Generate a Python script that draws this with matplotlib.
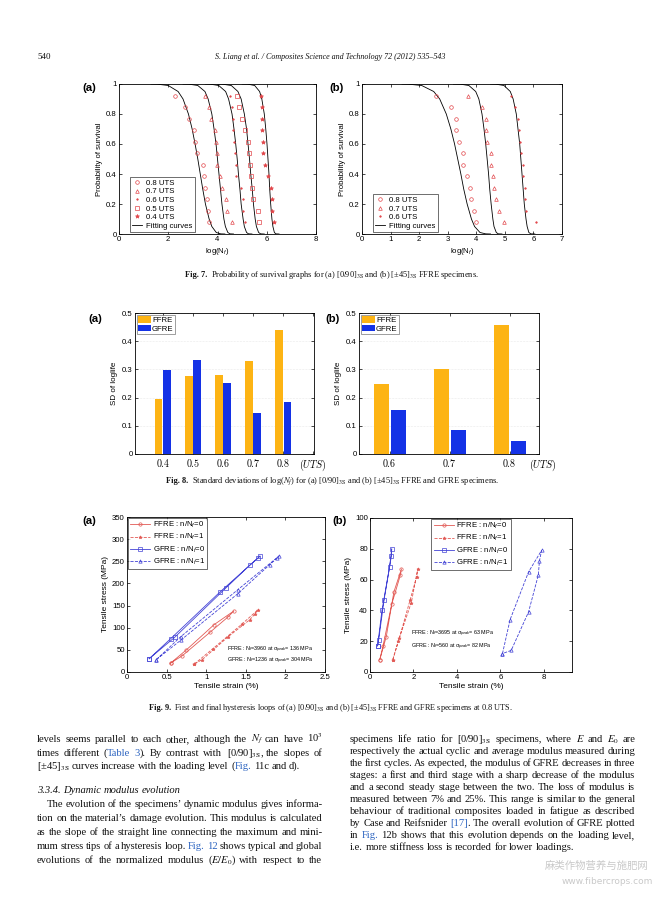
import re
import numpy as np
import matplotlib
matplotlib.use('Agg')
import matplotlib.pyplot as plt
from matplotlib.lines import Line2D
from matplotlib.textpath import text_to_path
from matplotlib.font_manager import FontProperties

# ---------------- data ----------------
# Fig 7: probability of survival
surv_p = [0.923, 0.846, 0.769, 0.692, 0.615, 0.538, 0.462, 0.385, 0.308, 0.231, 0.154, 0.077]
a_uts08 = [2.29, 2.67, 2.83, 3.04, 3.10, 3.17, 3.42, 3.44, 3.49, 3.59, 3.62, 3.66]
a_uts07 = [3.48, 3.66, 3.72, 3.89, 3.93, 3.96, 3.99, 4.09, 4.19, 4.33, 4.37, 4.57]
a_uts06 = [4.50, 4.57, 4.64, 4.64, 4.66, 4.71, 4.75, 4.77, 4.95, 5.02, 5.04, 5.11]
a_uts05 = [4.80, 4.88, 5.00, 5.13, 5.22, 5.27, 5.32, 5.36, 5.41, 5.45, 5.63, 5.68]
a_uts04 = [5.76, 5.79, 5.80, 5.82, 5.84, 5.86, 5.94, 6.06, 6.16, 6.20, 6.22, 6.31]
fit_p = [1.0, 0.999, 0.99, 0.95, 0.9, 0.8, 0.7, 0.6, 0.5, 0.4, 0.3, 0.2, 0.1, 0.05, 0.01, 0.001, 0.0]
a_fit1 = [1.30, 1.55, 2.00, 2.40, 2.60, 2.82, 2.97, 3.09, 3.20, 3.30, 3.40, 3.51, 3.66, 3.77, 3.95, 4.13, 4.30]
a_fit2 = [2.60, 2.84, 3.20, 3.49, 3.62, 3.77, 3.86, 3.94, 4.00, 4.06, 4.12, 4.18, 4.26, 4.32, 4.42, 4.51, 4.65]
a_fit3 = [3.50, 3.70, 4.05, 4.33, 4.45, 4.59, 4.67, 4.74, 4.80, 4.85, 4.91, 4.96, 5.04, 5.09, 5.18, 5.26, 5.40]
a_fit4 = [4.00, 4.20, 4.56, 4.83, 4.96, 5.09, 5.18, 5.24, 5.30, 5.35, 5.41, 5.46, 5.53, 5.58, 5.67, 5.75, 5.90]
a_fit5 = [5.00, 5.23, 5.51, 5.71, 5.80, 5.90, 5.96, 6.01, 6.05, 6.09, 6.12, 6.16, 6.21, 6.25, 6.31, 6.37, 6.50]
b_uts08 = [2.58, 3.10, 3.28, 3.28, 3.40, 3.55, 3.55, 3.67, 3.77, 3.81, 3.92, 3.98]
b_uts07 = [3.72, 4.21, 4.33, 4.33, 4.39, 4.53, 4.51, 4.57, 4.63, 4.68, 4.80, 4.98]
b_uts06 = [5.20, 5.35, 5.45, 5.50, 5.52, 5.58, 5.62, 5.65, 5.70, 5.72, 5.75, 6.10]
b_fit1 = [1.40, 1.62, 2.09, 2.51, 2.72, 2.95, 3.11, 3.24, 3.35, 3.46, 3.56, 3.68, 3.83, 3.94, 4.13, 4.33, 4.50]
b_fit2 = [3.20, 3.44, 3.74, 3.98, 4.09, 4.20, 4.27, 4.33, 4.38, 4.43, 4.47, 4.52, 4.58, 4.62, 4.70, 4.77, 4.90]
b_fit3 = [4.50, 4.68, 4.97, 5.19, 5.29, 5.40, 5.46, 5.52, 5.56, 5.60, 5.64, 5.68, 5.74, 5.78, 5.84, 5.91, 6.05]

# Fig 8: SD of loglife
uts_a = ['0.4', '0.5', '0.6', '0.7', '0.8']
sd_ffre_a = [0.195, 0.275, 0.280, 0.330, 0.438]
sd_gfre_a = [0.299, 0.334, 0.251, 0.145, 0.186]
uts_b = ['0.6', '0.7', '0.8']
sd_ffre_b = [0.248, 0.300, 0.457]
sd_gfre_b = [0.157, 0.085, 0.045]

# Fig 9: hysteresis loops (strain %, stress MPa)
a_ff0_e = [0.55, 0.75, 1.10, 1.35, 1.28, 1.05, 0.70, 0.55]
a_ff0_s = [20, 50, 107, 138, 125, 90, 37, 20]
a_ff1_e = [0.85, 1.08, 1.45, 1.65, 1.62, 1.55, 1.28, 0.95, 0.85]
a_ff1_s = [18, 52, 108, 140, 132, 118, 80, 28, 18]
a_gf0_e = [0.28, 0.55, 1.17, 1.68, 1.66, 1.55, 1.25, 0.60, 0.28]
a_gf0_s = [30, 75, 180, 262, 258, 241, 190, 78, 30]
a_gf1_e = [0.37, 0.68, 1.40, 1.92, 1.90, 1.80, 1.40, 0.68, 0.37]
a_gf1_s = [28, 80, 186, 262, 258, 242, 177, 72, 28]
b_ff0_e = [0.45, 0.75, 1.10, 1.45, 1.40, 1.00, 0.60, 0.45]
b_ff0_s = [8, 23, 52, 67, 63, 44, 17, 8]
b_ff1_e = [1.05, 1.30, 1.90, 2.20, 2.15, 1.85, 1.35, 1.05]
b_ff1_s = [8, 20, 45, 67, 62, 47, 22, 8]
b_gf0_e = [0.35, 0.55, 0.90, 1.00, 0.98, 0.65, 0.40, 0.35]
b_gf0_s = [17, 40, 68, 80, 75, 47, 21, 17]
b_gf1_e = [6.10, 6.45, 7.30, 7.90, 7.80, 7.75, 7.30, 6.50, 6.10]
b_gf1_s = [12, 34, 65, 79, 72, 63, 39, 14, 12]

# ---------------- style ----------------
plt.rcParams['font.family'] = ['Liberation Sans', 'DejaVu Sans']
plt.rcParams['mathtext.fontset'] = 'custom'
plt.rcParams['mathtext.rm'] = 'Liberation Sans'
plt.rcParams['mathtext.it'] = 'Liberation Sans:italic'
plt.rcParams['mathtext.bf'] = 'Liberation Sans:bold'

W, H = 672, 897
fig = plt.figure(figsize=(W / 100, H / 100), dpi=100)
fig.patch.set_facecolor('white')

RED = '#e2474b'
RED9 = '#e25a55'
BLUE9 = '#4343d6'
ORANGE = '#fdb414'
BLUE8 = '#1432e6'
TXT = '#111111'
LINK = '#2b63c0'
SERIF = ['Liberation Serif', 'DejaVu Serif']
MATHF = 'stix'


def new_axes(l, t, r, b):
    return fig.add_axes([l / W, 1 - b / H, (r - l) / W, (b - t) / H])


def style(ax, fs=5.6):
    ax.tick_params(labelsize=fs, direction='in', top=True, right=True,
                   length=2.2, width=0.5, pad=1.6)
    for s in ax.spines.values():
        s.set_linewidth(0.6)


def panel_label(x, y, s):
    fig.text(x / W, 1 - y / H, s, fontsize=8.2, fontweight='bold', ha='left', va='center')


def measure(s, fs, **kw):
    """ink width in pixels (100 dpi) of a string, from the font outlines"""
    if s == '':
        return 0.0
    prop = FontProperties(family=SERIF, size=fs, style=kw.get('style', 'normal'),
                          weight=kw.get('weight', 'normal'), math_fontfamily=MATHF)
    ismath = s.count('$') >= 2
    w, h, d = text_to_path.get_text_width_height_descent(s, prop, ismath=ismath)
    return w * 100.0 / 72.0


# ---------------- Fig 7 ----------------
def survival(ax, series, fits, xmax):
    for xs in fits:
        ax.plot(xs, fit_p, color='k', lw=0.6)
    specs = [('o', 2.6, 'none'), ('^', 2.6, 'none'), ('.', 2.2, RED), ('s', 2.3, 'none'), ('*', 3.0, RED)]
    handles = []
    for (xs, lab), (m, ms, fc) in zip(series, specs):
        ax.plot(xs, surv_p, ls='none', marker=m, ms=ms, mfc=fc, mec=RED, mew=0.5)
        handles.append(Line2D([], [], ls='none', marker=m, ms=ms, mfc=fc, mec=RED, mew=0.5, label=lab))
    handles.append(Line2D([], [], color='k', lw=0.6, label='Fitting curves'))
    ax.set_xlim(0, xmax)
    ax.set_ylim(0, 1)
    ax.set_xticks(range(0, xmax + 1, 2 if xmax == 8 else 1))
    ax.set_yticks([0, 0.2, 0.4, 0.6, 0.8, 1])
    ax.set_yticklabels(['0', '0.2', '0.4', '0.6', '0.8', '1'])
    style(ax)
    ax.set_xlabel('log(N$_f$)', fontsize=5.6, labelpad=2)
    ax.set_ylabel('Probability of survival', fontsize=5.6, labelpad=2)
    leg = ax.legend(handles=handles, loc='lower left', fontsize=5.6, frameon=True, fancybox=False,
                    edgecolor='k', handlelength=1.3, handletextpad=0.5, borderpad=0.3,
                    labelspacing=0.15, borderaxespad=0.25, bbox_to_anchor=(0.045, 0.0))
    leg.get_frame().set_linewidth(0.5)


ax7a = new_axes(119, 84, 316, 234)
survival(ax7a, [(a_uts08, '0.8 UTS'), (a_uts07, '0.7 UTS'), (a_uts06, '0.6 UTS'),
                (a_uts05, '0.5 UTS'), (a_uts04, '0.4 UTS')],
         [a_fit1, a_fit2, a_fit3, a_fit4, a_fit5], 8)
ax7b = new_axes(362, 84, 562, 234)
survival(ax7b, [(b_uts08, '0.8 UTS'), (b_uts07, '0.7 UTS'), (b_uts06, '0.6 UTS')],
         [b_fit1, b_fit2, b_fit3], 7)
panel_label(82, 88, '(a)')
panel_label(329, 88, '(b)')

# ---------------- Fig 8 ----------------
def sd_bars(ax, cats, ff, gf, xlim, uts_tick):
    pos = np.arange(1, len(cats) + 1)
    ax.yaxis.grid(True, color='#d8d8d8', lw=0.4, ls=':')
    ax.set_axisbelow(True)
    ax.bar(pos - 0.14, ff, 0.25, color=ORANGE, label='FFRE')
    ax.bar(pos + 0.14, gf, 0.25, color=BLUE8, label='GFRE')
    ax.set_xlim(*xlim)
    ax.set_ylim(0, 0.5)
    ax.set_yticks([0, 0.1, 0.2, 0.3, 0.4, 0.5])
    ax.set_yticklabels(['0', '0.1', '0.2', '0.3', '0.4', '0.5'])
    ticks = list(pos)
    labels = ['$%s$' % c for c in cats]
    if uts_tick:
        ticks.append(6)
        labels.append('$(UTS)$')
    ax.set_xticks(ticks)
    ax.set_xticklabels(labels)
    style(ax)
    ax.tick_params(axis='x', labelsize=7.2, pad=2.5)
    for t in ax.get_xticklabels():
        t.set_math_fontfamily('cm')
    ax.set_ylabel('SD of loglife', fontsize=5.8, labelpad=3)
    leg = ax.legend(loc='upper left', fontsize=5.6, frameon=True, fancybox=False, edgecolor='#555555',
                    handlelength=1.6, handleheight=0.9, handletextpad=0.2, borderpad=0.2,
                    labelspacing=0.1, borderaxespad=0.2)
    leg.get_frame().set_linewidth(0.5)


ax8a = new_axes(135, 313, 314, 454)
sd_bars(ax8a, uts_a, sd_ffre_a, sd_gfre_a, (0.07, 6.03), True)
ax8b = new_axes(359, 313, 539, 454)
sd_bars(ax8b, uts_b, sd_ffre_b, sd_gfre_b, (0.49, 3.49), False)
t = ax8b.text(3.56, -0.025, '$(UTS)$', fontsize=7.2, ha='center', va='top',
              transform=ax8b.get_xaxis_transform())
t.set_math_fontfamily('cm')
panel_label(88, 319, '(a)')
panel_label(325, 319, '(b)')

# ---------------- Fig 9 ----------------
def loops(ax, data, xlim, xticks, xtl, ylim, yticks, notes, note_xy, leg_loc, leg_anchor):
    specs = [(RED9, '-', 'o', 'none'), (RED9, '--', '*', RED9),
             (BLUE9, '-', 's', 'none'), (BLUE9, '--', '^', 'none')]
    labels = ['FFRE : n/N$_f$=0', 'FFRE : n/N$_f$=1', 'GFRE : n/N$_f$=0', 'GFRE : n/N$_f$=1']
    handles = []
    for (e, s), (c, ls, m, fc), lab in zip(data, specs, labels):
        ax.plot(e, s, color=c, ls=ls, lw=0.6, marker=m, ms=2.4, mfc=fc, mec=c, mew=0.5)
        handles.append(Line2D([], [], color=c, ls=ls, lw=0.6, marker=m, ms=2.4, mfc=fc, mec=c,
                              mew=0.5, label=lab))
    ax.set_xlim(*xlim)
    ax.set_ylim(*ylim)
    ax.set_xticks(xticks)
    ax.set_xticklabels(xtl)
    ax.set_yticks(yticks)
    style(ax)
    ax.set_xlabel('Tensile strain (%)', fontsize=6.0, labelpad=1.5)
    ax.set_ylabel('Tensile stress (MPa)', fontsize=6.0, labelpad=2)
    for (nx, ny), n in zip(note_xy, notes):
        ax.text(nx, ny, n, fontsize=3.9, ha='left', va='center')
    leg = ax.legend(handles=handles, loc=leg_loc, bbox_to_anchor=leg_anchor, fontsize=5.6,
                    frameon=True, fancybox=False, edgecolor='k', handlelength=2.6,
                    handletextpad=0.3, borderpad=0.3, labelspacing=0.25, borderaxespad=0.1)
    leg.get_frame().set_linewidth(0.5)


ax9a = new_axes(127, 517, 325, 672)
loops(ax9a, [(a_ff0_e, a_ff0_s), (a_ff1_e, a_ff1_s), (a_gf0_e, a_gf0_s), (a_gf1_e, a_gf1_s)],
      (0, 2.5), [0, 0.5, 1, 1.5, 2, 2.5], ['0', '0.5', '1', '1.5', '2', '2.5'],
      (0, 350), range(0, 351, 50),
      ['FFRE : N$_f$=3960 at σ$_{peak}$= 136 MPa', 'GFRE : N$_f$=1236 at σ$_{peak}$= 304 MPa'],
      [(1.26, 49), (1.26, 26)], 'upper left', (0.0, 1.0))
ax9b = new_axes(370, 518, 572, 672)
loops(ax9b, [(b_ff0_e, b_ff0_s), (b_ff1_e, b_ff1_s), (b_gf0_e, b_gf0_s), (b_gf1_e, b_gf1_s)],
      (0, 9.3), [0, 2, 4, 6, 8], ['0', '2', '4', '6', '8'],
      (0, 100), range(0, 101, 20),
      ['FFRE : N$_f$=3695 at σ$_{peak}$= 63 MPa', 'GFRE : N$_f$=560 at σ$_{peak}$= 82 MPa'],
      [(1.88, 25), (1.88, 16)], 'upper center', (0.50, 1.0))
panel_label(82, 521, '(a)')
panel_label(332, 521, '(b)')


# ---------------- page text ----------------
def seq(segments, y, fs, xc=None, x0=None, target=None):
    full = ''.join(s for s, kw in segments)
    if target is not None:
        fs = fs * target / measure(full, fs)
    total = measure(full, fs)
    x = (xc - total / 2) if xc is not None else x0
    prefix = ''
    for s, kw in segments:
        prefix += s
        px = measure(prefix, fs) - measure(s, fs, **kw)
        t = fig.text((x + px) / W, 1 - y / H, s, fontsize=fs, ha='left', va='baseline', color=TXT,
                     family=SERIF, **kw)
        t.set_math_fontfamily(MATHF)


# header
seq([('540', {})], 59, 6.5, x0=37)
seq([('S. Liang et al. / Composites Science and Technology 72 (2012) 535–543', {'style': 'italic'})],
    59, 6.5, xc=330, target=233)

# captions
cap = [
    (277, 'Fig. 7.', 'Probability of survival graphs for (a) [0/90]$_{\\mathrm{3S}}$ and (b) '
                     '[±45]$_{\\mathrm{3S}}$ FFRE specimens.', 292),
    (483, 'Fig. 8.', 'Standard deviations of log($N_f$) for (a) [0/90]$_{\\mathrm{3S}}$ and (b) '
                     '[±45]$_{\\mathrm{3S}}$ FFRE and GFRE specimens.', 329),
    (710, 'Fig. 9.', 'First and final hysteresis loops of (a) [0/90]$_{\\mathrm{3S}}$ and (b) '
                     '[±45]$_{\\mathrm{3S}}$ FFRE and GFRE specimens at 0.8 UTS.', 364),
]
for y, head, body, tw in cap:
    seq([(head, {'weight': 'bold'}), ('\u2002' + body, {})], y, 6.0, xc=331, target=tw)

# body text
left_lines = [
    ('levels seems parallel to each other, although the $N_f$ can have 10$^3$', 'j'),
    ('times different (<c>Table</c> <c>3</c>). By contrast with [0/90]$_{\\mathrm{3S}}$, the slopes of', 'j'),
    ('[±45]$_{\\mathrm{3S}}$ curves increase with the loading level (<c>Fig.</c> 11c and d).', 'l'),
    ('3.3.4. Dynamic modulus evolution', 'h'),
    ('The evolution of the specimens’ dynamic modulus gives informa-', 'ji'),
    ('tion on the material’s damage evolution. This modulus is calculated', 'j'),
    ('as the slope of the straight line connecting the maximum and mini-', 'j'),
    ('mum stress tips of a hysteresis loop. <c>Fig.</c> <c>12</c> shows typical and global', 'j'),
    ('evolutions of the normalized modulus ($E/E_0$) with respect to the', 'j'),
]
left_y = [742, 755.5, 769, 793, 807, 821, 835, 849, 863]
right_lines = [
    ('specimens life ratio for [0/90]$_{\\mathrm{3S}}$ specimens, where $E$ and $E_0$ are', 'j'),
    ('respectively the actual cyclic and average modulus measured during', 'j'),
    ('the first cycles. As expected, the modulus of GFRE decreases in three', 'j'),
    ('stages: a first and third stage with a sharp decrease of the modulus', 'j'),
    ('and a second steady stage between the two. The loss of modulus is', 'j'),
    ('measured between 7% and 25%. This range is similar to the general', 'j'),
    ('behaviour of traditional composites loaded in fatigue as described', 'j'),
    ('by Case and Reifsnider <c>[17]</c>. The overall evolution of GFRE plotted', 'j'),
    ('in <c>Fig.</c> 12b shows that this evolution depends on the loading level,', 'j'),
    ('i.e. more stiffness loss is recorded for lower loadings.', 'l'),
]
right_y = [742, 754, 766, 778, 790, 802, 814, 826, 838, 850]

PAT = re.compile(r'<c>(.*?)</c>')
COLW = 285
INDENT = 10


def line_segments(line):
    """list of (text, color, word_index); words separated by single spaces"""
    segs = []
    for wi, w in enumerate(line.split(' ')):
        pos = 0
        if wi > 0:
            segs.append((' ', TXT, wi))
        for m in PAT.finditer(w):
            if m.start() > pos:
                segs.append((w[pos:m.start()], TXT, wi))
            segs.append((m.group(1), LINK, wi))
            pos = m.end()
        if pos < len(w):
            segs.append((w[pos:], TXT, wi))
    return segs


def plain(line):
    return PAT.sub(lambda m: m.group(1), line)


jlines = [l for l, k in left_lines + right_lines if k == 'j']
med = float(np.median([measure(plain(l), 7.0) for l in jlines]))
BODY_FS = 7.0 * (COLW * 0.975) / med

for lines, ys, x0 in [(left_lines, left_y, 37), (right_lines, right_y, 350)]:
    for (line, kind), y in zip(lines, ys):
        kw = {'style': 'italic'} if kind == 'h' else {}
        segs = line_segments(line)
        nwords = len(line.split(' '))
        start = x0 + (INDENT if kind == 'ji' else 0)
        full = measure(plain(line), BODY_FS, **kw)
        extra = 0.0
        if kind.startswith('j') and nwords > 1:
            extra = (x0 + COLW - start - full) / (nwords - 1)
        prefix = ''
        for s, c, wi in segs:
            prefix += s
            if s == ' ':
                continue
            px = measure(prefix, BODY_FS, **kw) - measure(s, BODY_FS, **kw)
            t = fig.text((start + px + wi * extra) / W, 1 - y / H, s, fontsize=BODY_FS, color=c,
                         family=SERIF, ha='left', va='baseline', **kw)
            t.set_math_fontfamily(MATHF)

# watermark
fig.text(597 / W, 1 - 866 / H, '麻类作物营养与施肥网', fontsize=7.5, color='#c9c9c9',
         family=['Noto Sans CJK SC'], ha='center', va='center')
fig.text(607 / W, 1 - 881 / H, 'www.fibercrops.com', fontsize=6.5, color='#c9c9c9',
         family=['DejaVu Sans'], ha='center', va='center')

fig.savefig('out.png', dpi=100, facecolor='white')
